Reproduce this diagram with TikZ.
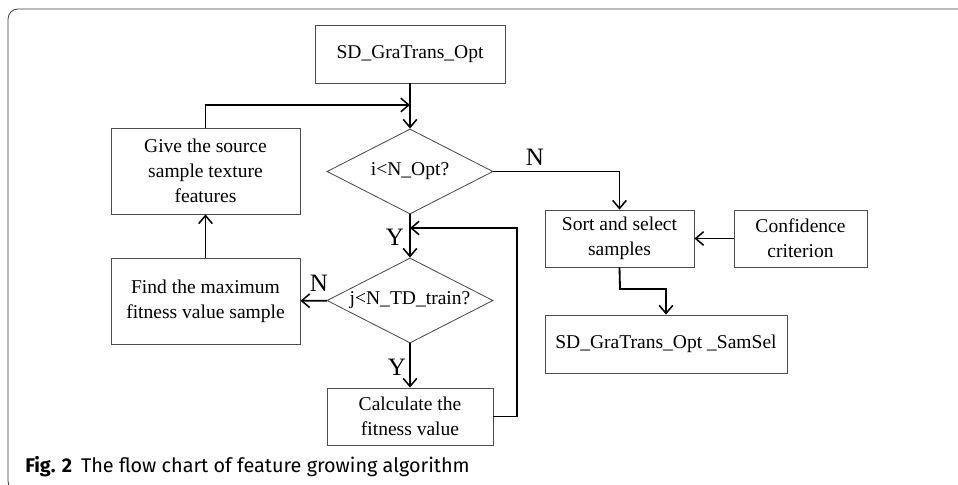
\documentclass[tikz,border=0pt]{standalone}
\usepackage{fontspec}
\setmainfont{Liberation Serif}
\newfontfamily\capfont{Fira Sans}
\usetikzlibrary{shapes.geometric,arrows.meta}

\begin{document}
\begin{tikzpicture}[x=0.025cm, y=-0.025cm,
    box/.style={draw=black!70, line width=0.6pt, rectangle, align=center, inner sep=2pt,
      font=\fontsize{13.9}{17.8}\selectfont},
    test/.style={draw=black!70, line width=0.6pt, diamond, aspect=2, inner sep=0pt,
      minimum width=4.15cm, minimum height=2.125cm, font=\fontsize{13.9}{17.8}\selectfont},
    arr/.style={line width=1.3pt, -{Straight Barb[length=2mm,width=3.4mm,line width=1.1pt]}},
    yn/.style={font=\fontsize{17.8}{20}\selectfont, inner sep=0pt},
    frame/.style={draw=black!75, line width=0.6pt}]
  \useasboundingbox (0,0) rectangle (958,485);
  \draw[frame, rounded corners=0.25cm] (970,9) -- (8,9) -- (8,491) -- (30,491);

  % boxes
  \node[box, minimum width=4.75cm, minimum height=1.45cm] (start) at (410,54) {SD\_GraTrans\_Opt};
  \node[test] (iopt) at (410,171.5) {i<N\_Opt?};
  \node[box, minimum width=4.725cm, minimum height=2.15cm] (give) at (205.5,171) {Give the source\\sample texture\\features};
  \node[test] (jtrain) at (410,300.5) {j<N\_TD\_train?};
  \node[box, minimum width=4.725cm, minimum height=2.15cm] (find) at (205.5,301) {Find the maximum\\fitness value sample};
  \node[box, minimum width=4.15cm, minimum height=1.425cm] (calc) at (410,416.5) {Calculate the\\fitness value};
  \node[box, minimum width=3.725cm, minimum height=1.425cm] (sort) at (619.5,238.5) {Sort and select\\samples};
  \node[box, minimum width=3.325cm, minimum height=1.425cm] (conf) at (800.5,238.5) {Confidence\\criterion};
  \node[box, minimum width=6.05cm, minimum height=1.45cm] (samsel) at (666,344) {SD\_GraTrans\_Opt \_SamSel};

  \coordinate (join1) at (410,105);
  \coordinate (join2) at (410,228);
  \coordinate (loop) at (517,228);
  \coordinate (bend) at (620,289);

  % connectors
  \draw[arr] (start) -- (iopt);
  \draw[arr] (give.north) |- (join1);
  \draw[arr] (iopt.east) -| (sort.north);
  \draw[arr] (conf) -- (sort);
  \draw[arr] (sort.south) -- (bend) -| (samsel.north);
  \draw[arr] (iopt) -- (jtrain);
  \draw[arr] (calc.east) -| (loop) -- (join2);
  \draw[arr] (jtrain) -- (find);
  \draw[arr] (find) -- (give);
  \draw[arr] (jtrain) -- (calc);

  % labels
  \node[yn] (n1) at (535,157) {N};
  \node[yn] (y1) at (395,237) {Y};
  \node[yn] (n2) at (319,283) {N};
  \node[yn] (y2) at (397,367) {Y};

  \node[anchor=base west, inner sep=0pt, font=\capfont\fontsize{14.1}{16}\selectfont] (cap) at (25,472)
    {\textbf{Fig. 2}\hspace{0.45em}The flow chart of feature growing algorithm};
\end{tikzpicture}
\end{document}
